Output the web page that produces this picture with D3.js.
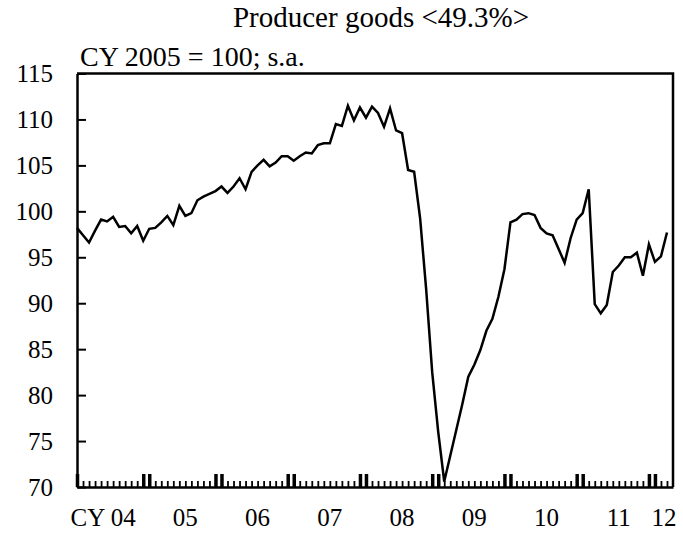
<!DOCTYPE html>
<html lang="en">
<head>
<meta charset="UTF-8">
<title>Producer goods</title>
<script src="https://d3js.org/d3.v7.min.js"></script>
<style>
    body { margin: 0; background: #fff; }
    svg text { font-family: "Liberation Serif", "Times New Roman", serif; fill: #000; }
    .axis path, .axis line { stroke: #000; fill: none; }
</style>
</head>
<body>
<svg width="683" height="533"></svg>
<script>
// monthly index, Jan 2004 .. Mar 2012 (CY 2005 = 100, s.a.)
var startYear = 2004;
var values = [
    98.2, 97.4, 96.6, 97.9, 99.1, 98.9, 99.4, 98.3, 98.4, 97.6, 98.4, 96.8,
    98.1, 98.2, 98.8, 99.5, 98.5, 100.6, 99.5, 99.8, 101.2, 101.6, 101.9, 102.2,
    102.7, 102.0, 102.7, 103.6, 102.4, 104.3, 105.0, 105.6, 104.9, 105.3, 106.0, 106.0,
    105.5, 106.0, 106.4, 106.3, 107.2, 107.4, 107.4, 109.5, 109.3, 111.5, 109.9, 111.3,
    110.2, 111.4, 110.7, 109.2, 111.2, 108.8, 108.5, 104.5, 104.3, 99.2, 91.5, 82.5,
    76.0, 70.6, 73.4, 76.2, 79.0, 82.0, 83.3, 84.9, 87.0, 88.3, 90.7, 93.7,
    98.8, 99.1, 99.7, 99.8, 99.6, 98.2, 97.6, 97.4, 95.9, 94.4, 97.1, 99.1,
    99.8, 102.4, 89.9, 88.9, 89.8, 93.4, 94.1, 95.0, 95.0, 95.5, 93.0, 96.4,
    94.5, 95.1, 97.7
];
var yearLabels = ["CY 04", "05", "06", "07", "08", "09", "10", "11", "12"];
var yTicks = [70, 75, 80, 85, 90, 95, 100, 105, 110, 115];

var mLeft = 77, mRight = 673, mTop = 73.5, mBottom = 487;

var x = d3.scaleLinear().domain([0, 99]).range([mLeft, mRight]);
var y = d3.scaleLinear().domain([70, 115]).range([mBottom, mTop]);

var svg = d3.select("svg");

// title
svg.append("text")
    .attr("x", 381).attr("y", 27)
    .attr("text-anchor", "middle")
    .attr("font-size", 29)
    .text("Producer goods <49.3%>");
svg.append("text")
    .attr("x", 80).attr("y", 66)
    .attr("font-size", 28)
    .text("CY 2005 = 100; s.a.");

// y axis, ticks pointing inward
var yAxis = d3.axisLeft(y).tickValues(yTicks).tickSize(-9).tickSizeOuter(0).tickPadding(24);
var gy = svg.append("g")
    .attr("class", "axis")
    .attr("transform", "translate(" + mLeft + ",0)")
    .call(yAxis);
gy.selectAll("text").attr("font-size", 25).attr("font-family", "Liberation Serif, serif");
gy.selectAll("line").attr("stroke-width", 2);
gy.select(".domain").attr("stroke-width", 2.5);

// x axis, one tick per month, Dec/Jan ticks heavier
var months = d3.range(0, values.length);
var xAxis = d3.axisBottom(x).tickValues(months).tickSize(-6).tickSizeOuter(0).tickFormat("");
var gx = svg.append("g")
    .attr("class", "axis")
    .attr("transform", "translate(0," + mBottom + ")")
    .call(xAxis);
gx.select(".domain").attr("stroke-width", 2.5);
gx.selectAll(".tick line")
    .attr("stroke-width", function(d) { var m = d % 12; return (m === 0 || m === 11) ? 3.5 : 1.8; })
    .attr("y2", function(d) { var m = d % 12; return (m === 0 || m === 11) ? -13 : -6; });

// year labels at centre of each year
gx.selectAll(".year")
    .data(yearLabels)
    .enter().append("text")
    .attr("class", "year")
    .attr("font-size", 25)
    .attr("text-anchor", "middle")
    .attr("y", 39)
    .attr("x", function(d, i) {
        var first = i * 12, last = Math.min(first + 11, values.length - 1);
        var cx = (x(first) + x(last)) / 2 + 3;
        return i === 0 ? cx - 10 : cx;
    })
    .text(function(d) { return d; });

// frame: top and right
svg.append("path")
    .attr("d", "M" + mLeft + "," + mTop + "H" + mRight + "V" + mBottom)
    .attr("fill", "none").attr("stroke", "#000").attr("stroke-width", 2.5);

// series line
var line = d3.line()
    .x(function(d, i) { return x(i); })
    .y(function(d) { return y(d); });
svg.append("path")
    .datum(values)
    .attr("d", line)
    .attr("fill", "none")
    .attr("stroke", "#000")
    .attr("stroke-width", 2.5)
    .attr("stroke-linejoin", "miter");
</script>
</body>
</html>
